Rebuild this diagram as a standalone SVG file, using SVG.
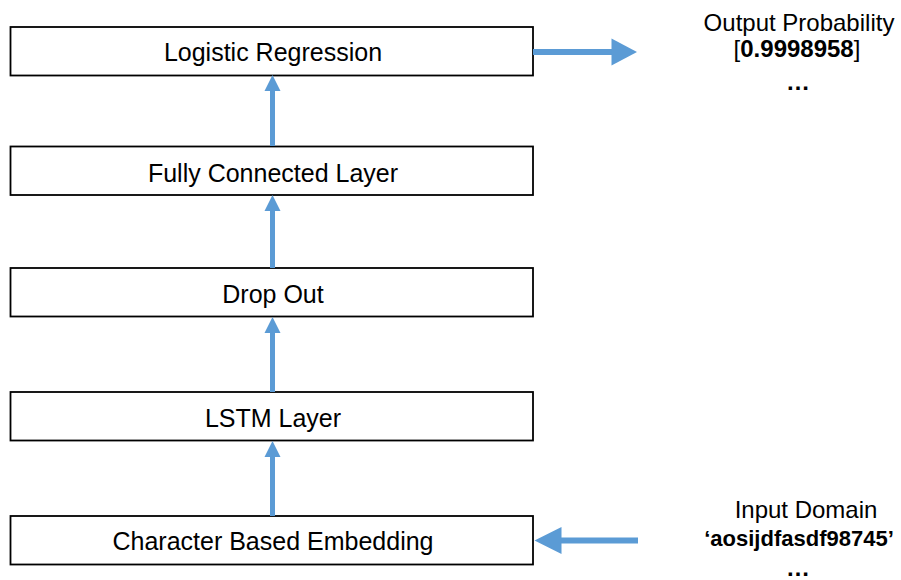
<svg xmlns="http://www.w3.org/2000/svg" width="901" height="580" viewBox="0 0 901 580">
<defs>
<style>
.box{fill:#fff;stroke:#000;stroke-width:1.8}
.lbl{font-family:"Liberation Sans",Arial,sans-serif;font-size:25px;fill:#000;text-anchor:middle}
.side{font-family:"Liberation Sans",Arial,sans-serif;font-size:24px;fill:#000;text-anchor:middle}
.b{font-weight:bold}
.shaft{stroke:#5B9BD5;fill:none}
.head{fill:#5B9BD5}
</style>
</defs>
<rect width="901" height="580" fill="#fff"/>
<g id="node-logistic">
<rect class="box" x="10.5" y="27" width="522.5" height="48.5"/>
<text class="lbl" x="273" y="61">Logistic Regression</text>
</g>
<g id="node-fc">
<rect class="box" x="10.5" y="146.5" width="522.5" height="48.5"/>
<text class="lbl" x="273" y="181.5">Fully Connected Layer</text>
</g>
<g id="node-dropout">
<rect class="box" x="10.5" y="268" width="522.5" height="48.5"/>
<text class="lbl" x="273" y="303">Drop Out</text>
</g>
<g id="node-lstm">
<rect class="box" x="10.5" y="392" width="522.5" height="48.5"/>
<text class="lbl" x="273" y="427">LSTM Layer</text>
</g>
<g id="node-embedding">
<rect class="box" x="10.5" y="516" width="522.5" height="48.5"/>
<text class="lbl" x="273" y="550">Character Based Embedding</text>
</g>
<g id="node-output">
<text class="side" x="799" y="31">Output Probability</text>
<text class="side" x="797" y="57">[<tspan class="b">0.9998958</tspan>]</text>
<text class="side b" x="798" y="90">…</text>
</g>
<g id="node-input">
<text class="side" x="806" y="518">Input Domain</text>
<text class="side b" x="799" y="546" style="font-size:22px">‘aosijdfasdf98745’</text>
<text class="side b" x="798" y="576">…</text>
</g>
<g id="connectors">
<line class="shaft" x1="272.5" y1="146" x2="272.5" y2="90" stroke-width="5"/>
<polygon class="head" points="272.5,75 264.5,91 280.5,91"/>
<line class="shaft" x1="272.5" y1="268" x2="272.5" y2="210" stroke-width="5"/>
<polygon class="head" points="272.5,195 264.5,211 280.5,211"/>
<line class="shaft" x1="272.5" y1="392" x2="272.5" y2="332" stroke-width="5"/>
<polygon class="head" points="272.5,317 264.5,333 280.5,333"/>
<line class="shaft" x1="272.5" y1="516" x2="272.5" y2="456" stroke-width="5"/>
<polygon class="head" points="272.5,441 264.5,457 280.5,457"/>
<line class="shaft" x1="533" y1="52" x2="613" y2="52" stroke-width="6"/>
<polygon class="head" points="637,52 611.5,38.5 611.5,65.5"/>
<line class="shaft" x1="638" y1="540.5" x2="560" y2="540.5" stroke-width="6"/>
<polygon class="head" points="534.5,540.5 561.5,527 561.5,554"/>
</g>
</svg>
